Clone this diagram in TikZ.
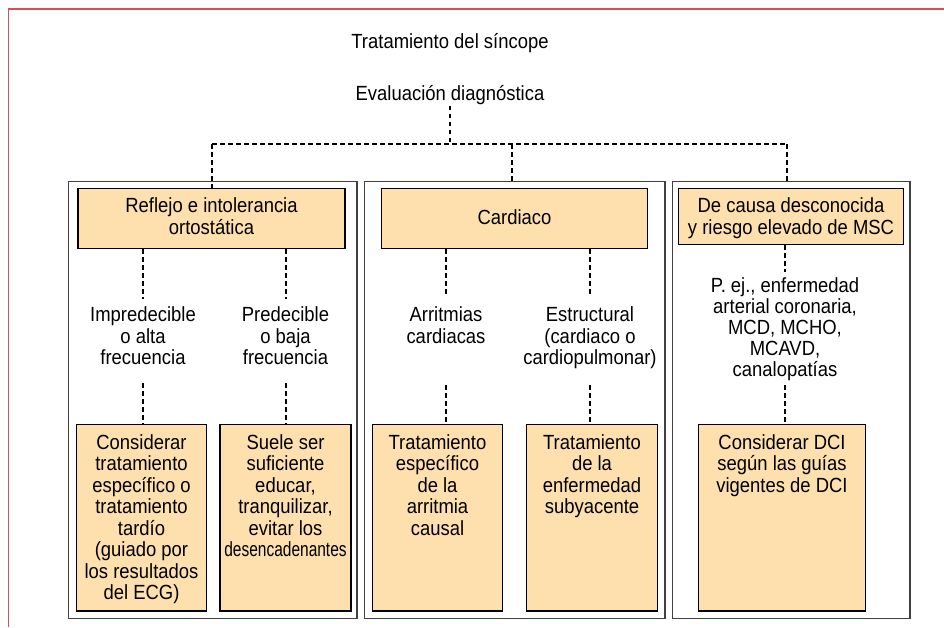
\documentclass[tikz,border=0pt]{standalone}
\usepackage{fontspec}
\usepackage{graphicx}
\setmainfont{Liberation Sans}[FakeStretch=0.9]
\definecolor{peach}{RGB}{254,223,174}
\definecolor{frame}{RGB}{214,79,90}
\newcommand\mytxtbox[4]{\parbox[c][#2][t]{#1}{\centering\rule{0pt}{#3}#4\par}}
\tikzset{
  fnt/.style={font=\fontsize{20.5}{21.5}\selectfont},
  txt/.style={fnt, align=center, inner sep=0pt, text=black},
  panel/.style={draw=black!75, line width=1.3pt, inner sep=0pt, fill=white},
  hbox/.style={draw=black, line width=1.3pt, fill=peach, inner sep=0pt, fnt},
  dl/.style={draw=black, line width=2pt, dash pattern=on 4.5pt off 3.5pt},
}
\begin{document}
\begin{tikzpicture}[x=1pt,y=-1pt]
\useasboundingbox (0,0) rectangle (944,627);
\draw[frame, line width=1.6pt] (8.5,627) -- (8.5,9) -- (944,9);

% panels
\node[panel, minimum width=288.5pt, minimum height=437pt] (p1) at (212.75,400) {};
\node[panel, minimum width=300.5pt, minimum height=437pt] (p2) at (514.75,400) {};
\node[panel, minimum width=237.5pt, minimum height=437pt] (p3) at (791.25,400) {};

% titles
\node[txt] (title) at (450,43) {Tratamiento del síncope};
\node[txt] (e) at (450,95) {Evaluación diagnóstica};

% headers
\node[hbox] (h1) at (211.5,218.5) {\mytxtbox{267pt}{60pt}{24pt}{Reflejo e intolerancia\\ortostática}};
\node[hbox] (h2) at (514.5,218.5) {\mytxtbox{266pt}{60pt}{35.7pt}{Cardiaco}};
\node[hbox] (h3) at (791,216.5) {\mytxtbox{225pt}{56pt}{24pt}{De causa desconocida\\y riesgo elevado de MSC}};

% middle texts
\node[txt] (t1) at (143,336) {Impredecible\\o alta\\frecuencia};
\node[txt] (t2) at (285.5,336) {Predecible\\o baja\\frecuencia};
\node[txt] (t3) at (446,325) {Arritmias\\cardiacas};
\node[txt] (t4) at (590,338) {Estructural\\(cardiaco o\\cardiopulmonar)};
\node[txt, font=\fontsize{20.5}{21}\selectfont] (t5) at (785,329.3) {P. ej., enfermedad\\arterial coronaria,\\MCD, MCHO,\\MCAVD,\\canalopatías};

% lower boxes
\node[hbox] (b1) at (141.5,517.75) {\mytxtbox{130pt}{186.5pt}{24.7pt}{Considerar\\tratamiento\\específico o\\tratamiento\\tardío\\(guiado por\\los resultados\\del ECG)}};
\node[hbox] (b2) at (285.5,517.75) {\mytxtbox{131pt}{186.5pt}{24.7pt}{Suele ser\\suficiente\\educar,\\tranquilizar,\\evitar los\\\scalebox{0.84}[1]{desencadenantes}}};
\node[hbox] (b3) at (437.5,517.75) {\mytxtbox{130pt}{186.5pt}{24.7pt}{Tratamiento\\específico\\de la\\arritmia\\causal}};
\node[hbox] (b4) at (592,517.75) {\mytxtbox{131pt}{186.5pt}{24.7pt}{Tratamiento\\de la\\enfermedad\\subyacente}};
\node[hbox] (b5) at (782,517.75) {\mytxtbox{167pt}{186.5pt}{24.7pt}{Considerar DCI\\según las guías\\vigentes de DCI}};

% top connectors
\coordinate (jl) at (212,144);
\coordinate (jm) at (511.7,144);
\coordinate (jr) at (787,144);
\draw[dl, shorten <=1pt] (e.south) -- (e.south |- jl);
\draw[dl] (jl) -- (jr);
\draw[dl] (jl) -- (jl |- h1.north);
\draw[dl] (jm) -- (jm |- p2.north);
\draw[dl] (jr) -- (jr |- p3.north);

% panel connectors
\draw[dl, shorten >=8pt] (t1.north |- h1.south) -- (t1.north);
\draw[dl, shorten >=8pt] (t2.north |- h1.south) -- (t2.north);
\draw[dl, shorten <=18pt] (t1.south) -- (t1.south |- b1.north);
\draw[dl, shorten <=18pt] (t2.south) -- (t2.south |- b2.north);
\draw[dl, shorten >=10pt] (t3.north |- h2.south) -- (t3.north);
\draw[dl, shorten >=10pt] (t4.north |- h2.south) -- (t4.north);
\draw[dl, shorten <=42pt] (t3.south) -- (t3.south |- b3.north);
\draw[dl, shorten <=16pt] (t4.south) -- (t4.south |- b4.north);
\draw[dl, shorten >=6pt] (t5.north |- h3.south) -- (t5.north);
\draw[dl, shorten <=4pt] (t5.south) -- (t5.south |- b5.north);
\end{tikzpicture}
\end{document}
